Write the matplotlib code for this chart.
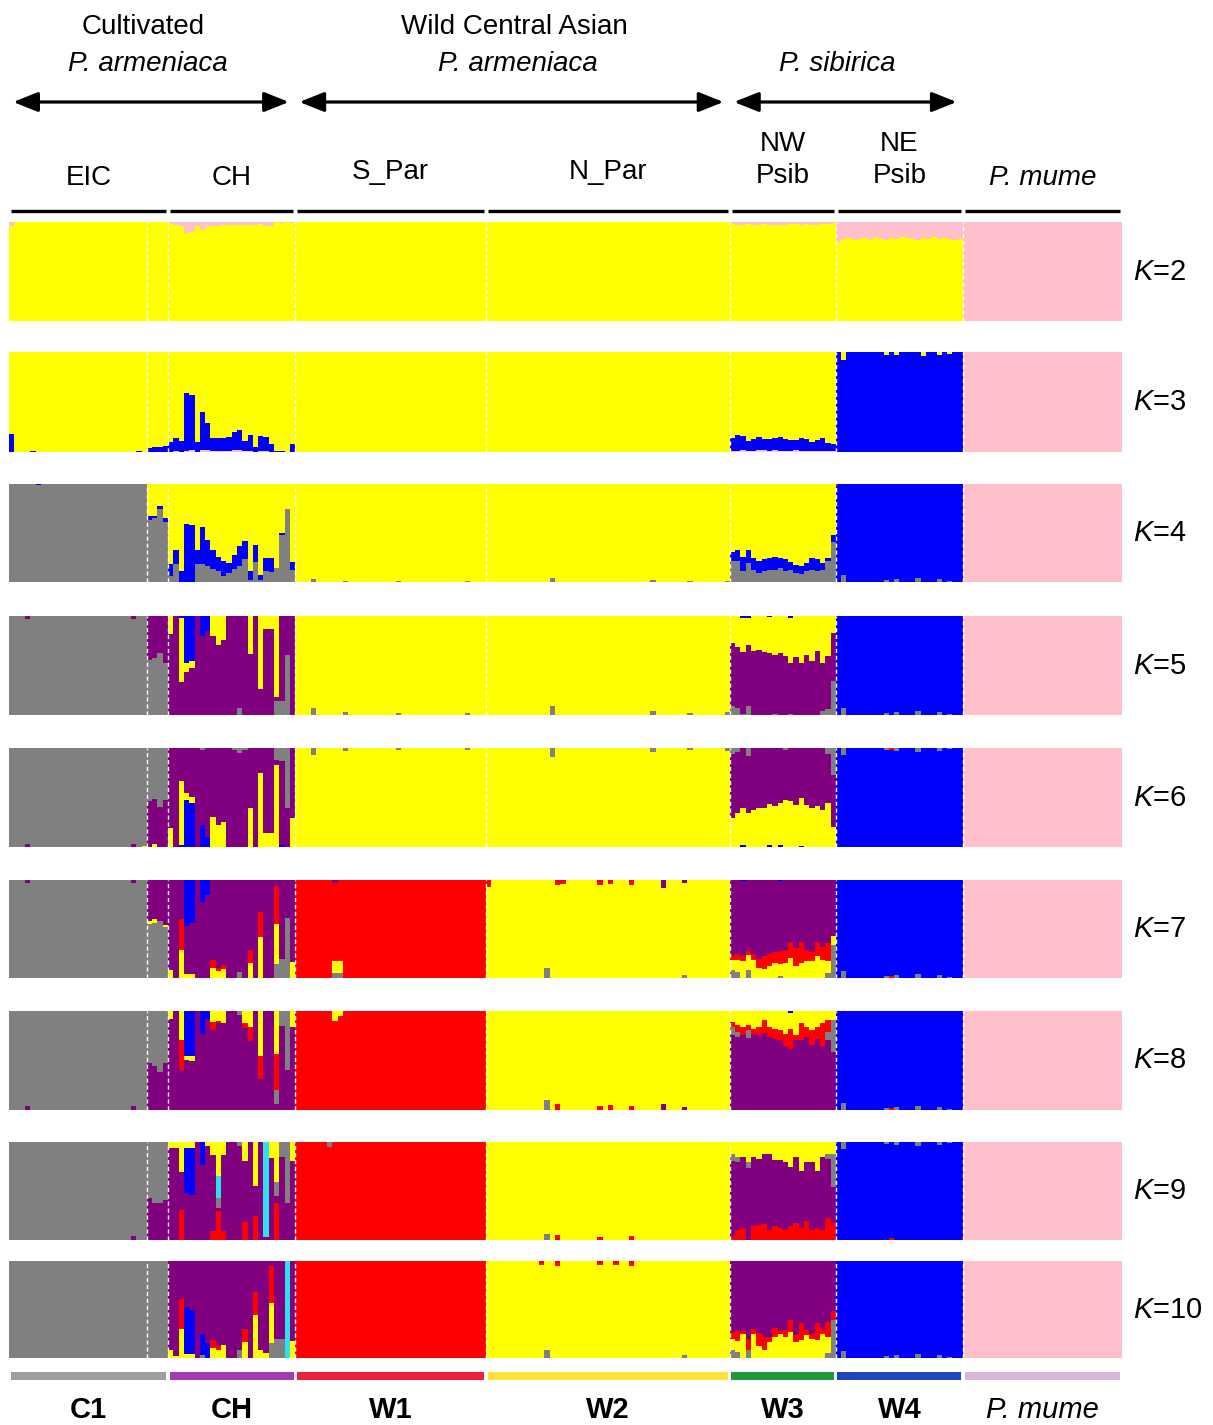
import numpy as np
import matplotlib.pyplot as plt
import matplotlib.transforms as mtransforms
from matplotlib.patches import FancyArrowPatch
from matplotlib.lines import Line2D

plt.rcParams['font.family'] = ['Liberation Sans', 'DejaVu Sans']
plt.rcParams['mathtext.fontset'] = 'custom'
plt.rcParams['mathtext.it'] = 'Liberation Sans:italic'
plt.rcParams['mathtext.rm'] = 'Liberation Sans'

W, H = 1213, 1425

# populations in plotting order and number of samples in each
groups = ["EIC", "EICb", "CH", "S_Par", "N_Par", "NW", "NE", "mume"]
sizes = [26, 4, 24, 36, 46, 20, 24, 30]
k_values = [2, 3, 4, 5, 6, 7, 8, 9, 10]

colors = {"yellow": "#ffff00", "pink": "#ffc0cb", "blue": "#0000ff", "gray": "#808080",
          "purple": "#800080", "red": "#ff0000", "cyan": "#30e0f0"}

# small admixture spots in otherwise uniform populations: (index, value)
ne_gray_spots = [(1, 0.07), (9, 0.02), (11, 0.03), (15, 0.04), (19, 0.03), (21, 0.01)]
spar_gray_spots = [(3, 0.07), (9, 0.03), (19, 0.02), (32, 0.02)]
npar_gray_spots = [(12, 0.09), (31, 0.04), (38, 0.02), (45, 0.03)]

# ---------------- K=2
order_k2 = ["yellow", "pink"]
fill_k2 = ["yellow", "yellow", "yellow", "yellow", "yellow", "yellow", "yellow", "pink"]
ch_k2_pink = [0.02, 0.03, 0.04, 0.11, 0.10, 0.04, 0.08, 0.05, 0.04, 0.04, 0.03, 0.03,
              0.03, 0.03, 0.03, 0.03, 0.03, 0.02, 0.04, 0.04, 0.00, 0.01, 0.00, 0.01]
nw_k2_pink = [0.02, 0.03, 0.03, 0.02, 0.03, 0.03, 0.02, 0.03, 0.03, 0.03,
              0.03, 0.02, 0.02, 0.03, 0.02, 0.03, 0.03, 0.02, 0.02, 0.01]
ne_k2_pink = [0.20, 0.17, 0.16, 0.18, 0.17, 0.16, 0.18, 0.15, 0.17, 0.18, 0.16, 0.17,
              0.15, 0.16, 0.17, 0.18, 0.16, 0.17, 0.15, 0.17, 0.16, 0.17, 0.18, 0.17]
specks_k2 = [("EIC", 0, "pink", 0.04)]

# ---------------- K=3
order_k3 = ["pink", "blue", "yellow"]
fill_k3 = ["yellow", "yellow", "yellow", "yellow", "yellow", "yellow", "blue", "pink"]
ch_k3_blue = [0.10, 0.13, 0.11, 0.58, 0.55, 0.10, 0.38, 0.27, 0.13, 0.13, 0.13, 0.14,
              0.18, 0.20, 0.10, 0.16, 0.05, 0.15, 0.14, 0.08, 0.01, 0.01, 0.00, 0.08]
ch_k3_pink = [0.00, 0.01, 0.00, 0.01, 0.02, 0.00, 0.02, 0.02, 0.01, 0.01, 0.01, 0.01,
              0.02, 0.02, 0.01, 0.01, 0.00, 0.01, 0.01, 0.00, 0.00, 0.00, 0.00, 0.00]
eicb_k3_blue = [0.04, 0.05, 0.05, 0.06]
nw_k3_blue = [0.13, 0.16, 0.14, 0.10, 0.12, 0.13, 0.11, 0.12, 0.12, 0.14,
              0.12, 0.11, 0.10, 0.13, 0.12, 0.09, 0.11, 0.13, 0.08, 0.07]
nw_k3_pink = [0.01, 0.01, 0.02, 0.01, 0.01, 0.02, 0.02, 0.01, 0.02, 0.01,
              0.01, 0.01, 0.02, 0.01, 0.01, 0.01, 0.01, 0.01, 0.01, 0.01]
specks_k3 = [("EIC", 0, "blue", 0.18), ("EIC", 4, "blue", 0.01), ("EIC", 24, "blue", 0.01),
             ("NE", 1, "yellow", 0.08), ("NE", 9, "yellow", 0.03), ("NE", 11, "yellow", 0.03),
             ("NE", 16, "yellow", 0.04), ("NE", 19, "yellow", 0.03), ("NE", 21, "yellow", 0.02)]

# ---------------- K=4
order_k4 = ["gray", "pink", "blue", "yellow"]
fill_k4 = ["gray", "yellow", "yellow", "yellow", "yellow", "yellow", "blue", "pink"]
ch_k4_gray = [0.06, 0.18, 0.00, 0.00, 0.00, 0.18, 0.18, 0.16, 0.13, 0.11, 0.06, 0.09,
              0.13, 0.16, 0.23, 0.02, 0.20, 0.02, 0.11, 0.10, 0.14, 0.48, 0.74, 0.12]
ch_k4_blue = [0.12, 0.15, 0.11, 0.59, 0.58, 0.15, 0.38, 0.27, 0.20, 0.15, 0.15, 0.10,
              0.15, 0.21, 0.19, 0.09, 0.18, 0.05, 0.13, 0.14, 0.00, 0.02, 0.00, 0.08]
eicb_k4_gray = [0.63, 0.65, 0.74, 0.61]
eicb_k4_blue = [0.04, 0.02, 0.04, 0.04]
nw_k4_gray = [0.21, 0.21, 0.11, 0.19, 0.12, 0.09, 0.11, 0.12, 0.12, 0.14,
              0.11, 0.12, 0.09, 0.08, 0.11, 0.12, 0.11, 0.12, 0.21, 0.41]
nw_k4_blue = [0.10, 0.12, 0.15, 0.14, 0.12, 0.12, 0.12, 0.12, 0.14, 0.10,
              0.12, 0.08, 0.08, 0.08, 0.08, 0.12, 0.12, 0.07, 0.03, 0.07]
specks_k4 = [("EIC", 5, "blue", 0.01)]
specks_k4 += [("S_Par", i, "gray", v * 0.5) for i, v in spar_gray_spots]
specks_k4 += [("N_Par", i, "gray", v * 0.5) for i, v in npar_gray_spots]
specks_k4 += [("NE", i, "gray", v) for i, v in ne_gray_spots]

# ---------------- K=5
order_k5 = ["gray", "purple", "yellow", "blue", "pink"]
fill_k5 = ["gray", "purple", "purple", "yellow", "yellow", "yellow", "blue", "pink"]
ch_k5_gray = [0.00, 0.00, 0.00, 0.00, 0.00, 0.00, 0.00, 0.00, 0.00, 0.00, 0.00, 0.00,
              0.00, 0.07, 0.00, 0.00, 0.00, 0.00, 0.00, 0.00, 0.14, 0.14, 0.61, 0.00]
ch_k5_yellow = [0.18, 0.00, 0.65, 0.10, 0.08, 0.00, 0.00, 0.00, 0.20, 0.29, 0.24, 0.00,
                0.00, 0.00, 0.00, 0.38, 0.00, 0.74, 0.13, 0.13, 0.82, 0.00, 0.00, 0.00]
ch_k5_blue = [0.00, 0.00, 0.02, 0.47, 0.45, 0.00, 0.20, 0.15, 0.00, 0.00, 0.00, 0.00,
              0.00, 0.00, 0.00, 0.00, 0.00, 0.00, 0.00, 0.00, 0.00, 0.00, 0.00, 0.00]
eicb_k5_gray = [0.56, 0.58, 0.63, 0.53]
nw_k5_gray = [0.09, 0.07, 0.01, 0.09, 0.00, 0.00, 0.00, 0.00, 0.01, 0.00,
              0.00, 0.01, 0.00, 0.00, 0.00, 0.00, 0.00, 0.04, 0.06, 0.34]
nw_k5_purple = [0.64, 0.62, 0.63, 0.62, 0.65, 0.66, 0.64, 0.63, 0.60, 0.63,
                0.60, 0.52, 0.59, 0.53, 0.61, 0.55, 0.65, 0.49, 0.54, 0.49]
specks_k5 = [("EIC", 3, "purple", 0.03), ("EIC", 23, "purple", 0.03),
             ("NW", 2, "blue", 0.02), ("NW", 3, "blue", 0.02), ("NW", 7, "blue", 0.01),
             ("NW", 11, "blue", 0.02)]
specks_k5 += [("S_Par", i, "gray", v) for i, v in spar_gray_spots]
specks_k5 += [("N_Par", i, "gray", v) for i, v in npar_gray_spots]
specks_k5 += [("NE", i, "gray", v) for i, v in ne_gray_spots]

# ---------------- K=6
order_k6 = ["blue", "yellow", "purple", "gray", "red", "pink"]
fill_k6 = ["gray", "gray", "purple", "yellow", "yellow", "purple", "blue", "pink"]
ch_k6_blue = [0.00, 0.00, 0.02, 0.47, 0.44, 0.00, 0.22, 0.10, 0.00, 0.00, 0.00, 0.00,
              0.00, 0.00, 0.00, 0.00, 0.00, 0.00, 0.00, 0.00, 0.00, 0.02, 0.00, 0.00]
ch_k6_yellow = [0.19, 0.00, 0.65, 0.08, 0.07, 0.00, 0.00, 0.00, 0.30, 0.22, 0.25, 0.00,
                0.00, 0.00, 0.00, 0.39, 0.00, 0.75, 0.14, 0.14, 0.83, 0.00, 0.00, 0.29]
ch_k6_gray = [0.00, 0.00, 0.00, 0.00, 0.00, 0.00, 0.02, 0.00, 0.00, 0.00, 0.00, 0.00,
              0.02, 0.05, 0.02, 0.00, 0.00, 0.00, 0.00, 0.00, 0.12, 0.13, 0.61, 0.00]
eicb_k6_purple = [0.46, 0.45, 0.40, 0.47]
eicb_k6_yellow = [0.00, 0.03, 0.00, 0.00]
nw_k6_yellow = [0.29, 0.34, 0.37, 0.34, 0.37, 0.39, 0.39, 0.41, 0.41, 0.42,
                0.47, 0.46, 0.42, 0.48, 0.42, 0.39, 0.41, 0.37, 0.44, 0.20]
nw_k6_gray = [0.06, 0.04, 0.00, 0.08, 0.00, 0.00, 0.00, 0.00, 0.00, 0.00,
              0.02, 0.00, 0.00, 0.00, 0.00, 0.00, 0.00, 0.00, 0.06, 0.27]
specks_k6 = [("EIC", 3, "purple", 0.03), ("EIC", 23, "purple", 0.03), ("EIC", 25, "yellow", 0.01),
             ("NW", 2, "blue", 0.02), ("NW", 7, "blue", 0.02), ("NW", 9, "blue", 0.02),
             ("NW", 13, "blue", 0.01), ("NE", 10, "red", 0.02)]
specks_k6 += [("S_Par", i, "gray", v) for i, v in spar_gray_spots]
specks_k6 += [("N_Par", i, "gray", v) for i, v in npar_gray_spots]
specks_k6 += [("NE", i, "gray", v) for i, v in ne_gray_spots]

# ---------------- K=7
order_k7 = ["gray", "yellow", "red", "purple", "blue", "pink"]
fill_k7 = ["gray", "purple", "purple", "red", "yellow", "purple", "blue", "pink"]
ch_k7_yellow = [0.08, 0.00, 0.29, 0.04, 0.04, 0.00, 0.00, 0.00, 0.10, 0.07, 0.09, 0.00,
                0.00, 0.00, 0.00, 0.15, 0.00, 0.42, 0.00, 0.00, 0.41, 0.00, 0.00, 0.16]
ch_k7_red = [0.00, 0.00, 0.31, 0.00, 0.00, 0.00, 0.00, 0.00, 0.08, 0.03, 0.04, 0.00,
             0.00, 0.00, 0.00, 0.14, 0.00, 0.25, 0.00, 0.00, 0.39, 0.00, 0.00, 0.00]
ch_k7_gray = [0.00, 0.00, 0.00, 0.00, 0.00, 0.00, 0.00, 0.00, 0.00, 0.00, 0.00, 0.00,
              0.00, 0.06, 0.00, 0.00, 0.00, 0.00, 0.00, 0.00, 0.14, 0.19, 0.61, 0.00]
ch_k7_blue = [0.00, 0.00, 0.00, 0.47, 0.44, 0.00, 0.22, 0.15, 0.00, 0.00, 0.00, 0.00,
              0.00, 0.00, 0.00, 0.00, 0.00, 0.00, 0.00, 0.00, 0.00, 0.00, 0.00, 0.00]
eicb_k7_gray = [0.55, 0.56, 0.58, 0.52]
eicb_k7_yellow = [0.03, 0.04, 0.00, 0.02]
nw_k7_gray = [0.08, 0.06, 0.00, 0.08, 0.00, 0.00, 0.00, 0.00, 0.00, 0.02,
              0.00, 0.00, 0.00, 0.00, 0.00, 0.00, 0.00, 0.00, 0.05, 0.34]
nw_k7_yellow = [0.10, 0.12, 0.17, 0.15, 0.18, 0.10, 0.09, 0.12, 0.15, 0.12,
                0.15, 0.20, 0.12, 0.15, 0.17, 0.17, 0.22, 0.18, 0.12, 0.09]
nw_k7_red = [0.05, 0.07, 0.05, 0.05, 0.07, 0.09, 0.13, 0.12, 0.12, 0.14,
             0.14, 0.17, 0.19, 0.22, 0.12, 0.10, 0.15, 0.14, 0.19, 0.00]
specks_k7 = [("EIC", 3, "purple", 0.03), ("EIC", 23, "purple", 0.03),
             ("NW", 2, "blue", 0.01), ("NW", 9, "blue", 0.01),
             ("S_Par", 7, "purple", 0.03), ("S_Par", 7, "yellow", 0.12), ("S_Par", 7, "gray", 0.05),
             ("S_Par", 8, "yellow", 0.12), ("S_Par", 8, "gray", 0.05),
             ("N_Par", 0, "red", 0.07), ("N_Par", 13, "red", 0.05), ("N_Par", 14, "red", 0.04),
             ("N_Par", 21, "red", 0.05), ("N_Par", 23, "red", 0.04), ("N_Par", 27, "red", 0.05),
             ("N_Par", 33, "purple", 0.08), ("N_Par", 37, "purple", 0.03),
             ("N_Par", 11, "gray", 0.10), ("N_Par", 37, "gray", 0.03), ("NE", 10, "red", 0.02)]
specks_k7 += [("NE", i, "gray", v) for i, v in ne_gray_spots]

# ---------------- K=8
order_k8 = ["purple", "gray", "red", "yellow", "blue", "pink"]
fill_k8 = ["gray", "gray", "purple", "red", "yellow", "purple", "blue", "pink"]
ch_k8_gray = [0.00, 0.00, 0.00, 0.00, 0.00, 0.00, 0.00, 0.00, 0.00, 0.00, 0.00, 0.00,
              0.00, 0.04, 0.00, 0.00, 0.00, 0.00, 0.00, 0.00, 0.14, 0.15, 0.60, 0.00]
ch_k8_red = [0.00, 0.00, 0.31, 0.00, 0.00, 0.00, 0.00, 0.00, 0.08, 0.02, 0.00, 0.00,
             0.00, 0.00, 0.05, 0.14, 0.00, 0.24, 0.00, 0.00, 0.37, 0.00, 0.00, 0.00]
ch_k8_yellow = [0.08, 0.00, 0.29, 0.04, 0.06, 0.00, 0.00, 0.00, 0.11, 0.10, 0.12, 0.00,
                0.00, 0.00, 0.12, 0.16, 0.00, 0.45, 0.00, 0.00, 0.43, 0.00, 0.00, 0.16]
ch_k8_blue = [0.00, 0.00, 0.00, 0.45, 0.45, 0.00, 0.23, 0.08, 0.00, 0.00, 0.00, 0.00,
              0.00, 0.00, 0.00, 0.00, 0.00, 0.00, 0.00, 0.00, 0.00, 0.00, 0.00, 0.00]
eicb_k8_purple = [0.47, 0.44, 0.38, 0.47]
nw_k8_yellow = [0.11, 0.14, 0.16, 0.14, 0.18, 0.16, 0.09, 0.16, 0.18, 0.19,
                0.23, 0.16, 0.24, 0.12, 0.16, 0.19, 0.16, 0.12, 0.09, 0.09]
nw_k8_red = [0.05, 0.07, 0.08, 0.05, 0.05, 0.08, 0.13, 0.10, 0.10, 0.10,
             0.12, 0.20, 0.05, 0.17, 0.10, 0.15, 0.12, 0.23, 0.12, 0.00]
nw_k8_gray = [0.08, 0.05, 0.00, 0.08, 0.00, 0.00, 0.00, 0.00, 0.00, 0.00,
              0.00, 0.00, 0.00, 0.00, 0.00, 0.00, 0.00, 0.00, 0.08, 0.32]
specks_k8 = [("EIC", 3, "purple", 0.04), ("EIC", 23, "purple", 0.04), ("NW", 11, "blue", 0.02),
             ("S_Par", 7, "yellow", 0.10), ("S_Par", 8, "yellow", 0.05),
             ("N_Par", 13, "red", 0.06), ("N_Par", 21, "red", 0.04), ("N_Par", 23, "red", 0.05),
             ("N_Par", 27, "red", 0.04), ("N_Par", 11, "gray", 0.10),
             ("N_Par", 33, "purple", 0.06), ("N_Par", 37, "purple", 0.03), ("NE", 10, "red", 0.02)]
specks_k8 += [("NE", i, "gray", v) for i, v in ne_gray_spots]

# ---------------- K=9
order_k9 = ["red", "purple", "blue", "gray", "cyan", "yellow", "pink"]
fill_k9 = ["gray", "gray", "purple", "red", "yellow", "purple", "blue", "pink"]
ch_k9_yellow = [0.06, 0.06, 0.31, 0.06, 0.06, 0.00, 0.00, 0.04, 0.13, 0.35, 0.13, 0.00,
                0.00, 0.00, 0.19, 0.00, 0.45, 0.00, 0.00, 0.16, 0.41, 0.00, 0.00, 0.19]
ch_k9_red = [0.00, 0.00, 0.31, 0.00, 0.00, 0.00, 0.00, 0.00, 0.09, 0.30, 0.09, 0.00,
             0.00, 0.00, 0.18, 0.00, 0.24, 0.00, 0.00, 0.00, 0.38, 0.00, 0.00, 0.00]
ch_k9_blue = [0.00, 0.00, 0.00, 0.46, 0.48, 0.00, 0.23, 0.00, 0.00, 0.00, 0.00, 0.00,
              0.00, 0.00, 0.00, 0.00, 0.00, 0.00, 0.00, 0.00, 0.00, 0.00, 0.00, 0.00]
ch_k9_gray = [0.00, 0.00, 0.00, 0.00, 0.00, 0.00, 0.00, 0.00, 0.00, 0.10, 0.00, 0.00,
              0.00, 0.04, 0.00, 0.00, 0.00, 0.00, 0.00, 0.00, 0.14, 0.15, 0.62, 0.00]
ch_k9_cyan = [0.00, 0.00, 0.00, 0.00, 0.00, 0.00, 0.00, 0.00, 0.00, 0.22, 0.00, 0.00,
              0.00, 0.00, 0.00, 0.00, 0.00, 0.00, 0.97, 0.00, 0.00, 0.00, 0.00, 0.00]
eicb_k9_purple = [0.43, 0.38, 0.38, 0.41]
nw_k9_yellow = [0.12, 0.15, 0.15, 0.20, 0.15, 0.17, 0.12, 0.12, 0.18, 0.18,
                0.20, 0.25, 0.15, 0.30, 0.20, 0.20, 0.30, 0.15, 0.12, 0.12]
nw_k9_gray = [0.07, 0.05, 0.00, 0.07, 0.00, 0.00, 0.00, 0.00, 0.00, 0.00,
              0.00, 0.00, 0.00, 0.00, 0.00, 0.00, 0.00, 0.00, 0.05, 0.34]
nw_k9_red = [0.03, 0.10, 0.12, 0.00, 0.14, 0.15, 0.16, 0.10, 0.14, 0.12,
             0.10, 0.14, 0.17, 0.12, 0.19, 0.10, 0.12, 0.10, 0.22, 0.17]
specks_k9 = [("EIC", 23, "purple", 0.04), ("S_Par", 6, "gray", 0.05),
             ("N_Par", 13, "red", 0.05), ("N_Par", 21, "red", 0.03), ("N_Par", 27, "red", 0.04),
             ("N_Par", 11, "gray", 0.06), ("NE", 10, "red", 0.02)]
specks_k9 += [("NE", i, "gray", v) for i, v in ne_gray_spots]

# ---------------- K=10
order_k10 = ["gray", "yellow", "red", "blue", "cyan", "purple", "pink"]
fill_k10 = ["gray", "gray", "purple", "red", "yellow", "purple", "blue", "pink"]
ch_k10_gray = [0.00, 0.00, 0.00, 0.00, 0.00, 0.00, 0.03, 0.00, 0.00, 0.00, 0.00, 0.00,
               0.00, 0.08, 0.00, 0.00, 0.00, 0.00, 0.00, 0.15, 0.20, 0.20, 0.00, 0.00]
ch_k10_yellow = [0.08, 0.02, 0.30, 0.04, 0.04, 0.00, 0.00, 0.00, 0.10, 0.08, 0.13, 0.00,
                 0.00, 0.00, 0.16, 0.00, 0.44, 0.08, 0.05, 0.42, 0.00, 0.00, 0.00, 0.18]
ch_k10_red = [0.00, 0.00, 0.31, 0.00, 0.00, 0.00, 0.00, 0.00, 0.09, 0.04, 0.00, 0.00,
              0.00, 0.00, 0.14, 0.00, 0.24, 0.00, 0.00, 0.38, 0.00, 0.00, 0.00, 0.00]
ch_k10_blue = [0.00, 0.00, 0.00, 0.49, 0.46, 0.00, 0.22, 0.15, 0.00, 0.00, 0.00, 0.00,
               0.00, 0.00, 0.00, 0.00, 0.00, 0.00, 0.00, 0.00, 0.00, 0.00, 0.00, 0.00]
ch_k10_cyan = [0.00, 0.00, 0.00, 0.00, 0.00, 0.00, 0.00, 0.00, 0.00, 0.00, 0.00, 0.00,
               0.00, 0.00, 0.00, 0.00, 0.00, 0.00, 0.00, 0.00, 0.00, 0.00, 1.00, 0.00]
nw_k10_gray = [0.08, 0.06, 0.00, 0.08, 0.00, 0.00, 0.00, 0.00, 0.00, 0.00,
               0.00, 0.00, 0.00, 0.00, 0.00, 0.00, 0.00, 0.00, 0.05, 0.39]
nw_k10_yellow = [0.12, 0.12, 0.25, 0.00, 0.25, 0.12, 0.08, 0.17, 0.22, 0.25,
                 0.22, 0.27, 0.17, 0.19, 0.24, 0.20, 0.19, 0.25, 0.17, 0.00]
nw_k10_red = [0.07, 0.10, 0.03, 0.12, 0.05, 0.14, 0.14, 0.05, 0.09, 0.03,
              0.07, 0.12, 0.07, 0.17, 0.05, 0.05, 0.17, 0.05, 0.15, 0.09]
specks_k10 = [("N_Par", 10, "red", 0.04), ("N_Par", 13, "red", 0.05), ("N_Par", 21, "red", 0.04),
              ("N_Par", 24, "red", 0.04), ("N_Par", 27, "red", 0.05),
              ("N_Par", 11, "gray", 0.08), ("N_Par", 37, "gray", 0.03)]
specks_k10 += [("NE", i, "gray", v) for i, v in ne_gray_spots]

rows = {
    2: (order_k2, fill_k2, [("CH", "pink", ch_k2_pink), ("NW", "pink", nw_k2_pink),
                            ("NE", "pink", ne_k2_pink)], specks_k2),
    3: (order_k3, fill_k3, [("CH", "blue", ch_k3_blue), ("CH", "pink", ch_k3_pink),
                            ("EICb", "blue", eicb_k3_blue), ("NW", "blue", nw_k3_blue),
                            ("NW", "pink", nw_k3_pink)], specks_k3),
    4: (order_k4, fill_k4, [("CH", "gray", ch_k4_gray), ("CH", "blue", ch_k4_blue),
                            ("EICb", "gray", eicb_k4_gray), ("EICb", "blue", eicb_k4_blue),
                            ("NW", "gray", nw_k4_gray), ("NW", "blue", nw_k4_blue)], specks_k4),
    5: (order_k5, fill_k5, [("CH", "gray", ch_k5_gray), ("CH", "yellow", ch_k5_yellow),
                            ("CH", "blue", ch_k5_blue), ("EICb", "gray", eicb_k5_gray),
                            ("NW", "gray", nw_k5_gray), ("NW", "purple", nw_k5_purple)], specks_k5),
    6: (order_k6, fill_k6, [("CH", "blue", ch_k6_blue), ("CH", "yellow", ch_k6_yellow),
                            ("CH", "gray", ch_k6_gray), ("EICb", "purple", eicb_k6_purple),
                            ("EICb", "yellow", eicb_k6_yellow), ("NW", "yellow", nw_k6_yellow),
                            ("NW", "gray", nw_k6_gray)], specks_k6),
    7: (order_k7, fill_k7, [("CH", "yellow", ch_k7_yellow), ("CH", "red", ch_k7_red),
                            ("CH", "gray", ch_k7_gray), ("CH", "blue", ch_k7_blue),
                            ("EICb", "gray", eicb_k7_gray), ("EICb", "yellow", eicb_k7_yellow),
                            ("NW", "gray", nw_k7_gray), ("NW", "yellow", nw_k7_yellow),
                            ("NW", "red", nw_k7_red)], specks_k7),
    8: (order_k8, fill_k8, [("CH", "gray", ch_k8_gray), ("CH", "red", ch_k8_red),
                            ("CH", "yellow", ch_k8_yellow), ("CH", "blue", ch_k8_blue),
                            ("EICb", "purple", eicb_k8_purple), ("NW", "yellow", nw_k8_yellow),
                            ("NW", "red", nw_k8_red), ("NW", "gray", nw_k8_gray)], specks_k8),
    9: (order_k9, fill_k9, [("CH", "yellow", ch_k9_yellow), ("CH", "red", ch_k9_red),
                            ("CH", "blue", ch_k9_blue), ("CH", "gray", ch_k9_gray),
                            ("CH", "cyan", ch_k9_cyan), ("EICb", "purple", eicb_k9_purple),
                            ("NW", "yellow", nw_k9_yellow), ("NW", "gray", nw_k9_gray),
                            ("NW", "red", nw_k9_red)], specks_k9),
    10: (order_k10, fill_k10, [("CH", "gray", ch_k10_gray), ("CH", "yellow", ch_k10_yellow),
                               ("CH", "red", ch_k10_red), ("CH", "blue", ch_k10_blue),
                               ("CH", "cyan", ch_k10_cyan), ("NW", "gray", nw_k10_gray),
                               ("NW", "yellow", nw_k10_yellow), ("NW", "red", nw_k10_red)], specks_k10),
}

# label groups for the header / footer
label_groups = [["EIC", "EICb"], ["CH"], ["S_Par"], ["N_Par"], ["NW"], ["NE"], ["mume"]]
top_labels = ["EIC", "CH", "S_Par", "N_Par", "NW\nPsib", "NE\nPsib", "P. mume"]
bottom_labels = ["C1", "CH", "W1", "W2", "W3", "W4", "P. mume"]
bar_colors = ["#9e9e9e", "#a23bb0", "#ea1f3c", "#ffe23a", "#20993a", "#1e46be", "#dcb6d9"]
arrow_groups = [["EIC", "EICb", "CH"], ["S_Par", "N_Par"], ["NW", "NE"]]

n = sum(sizes)
starts = np.cumsum([0] + sizes[:-1])
start = dict(zip(groups, starts))
size = dict(zip(groups, sizes))


def admixture(order, fill, comps, specks):
    q = {c: np.zeros(n) for c in order}
    for g, c, vals in comps:
        if len(vals) != size[g]:
            raise ValueError(f"{g} {c}: {len(vals)} values")
        q[c][start[g]:start[g] + size[g]] += np.asarray(vals)
    for g, i, c, v in specks:
        q[c][start[g] + i] += v
    for g, c in zip(groups, fill):
        s = slice(start[g], start[g] + size[g])
        others = sum(q[k][s] for k in order if k != c)
        q[c][s] = np.clip(1 - others, 0, 1)
    return q


def span(gs):
    return start[gs[0]], start[gs[-1]] + size[gs[-1]]


def fy(y):
    return 1 - y / H


fig = plt.figure(figsize=(W / 100, H / 100), dpi=100)

left, right = 9, 1122
row_px = [(222, 321), (352, 452), (484, 582), (616, 715), (748, 847),
          (880, 978), (1011, 1110), (1142, 1240), (1261, 1358)]
edges = np.arange(n + 1)
axes = []
for k, (top, bot) in zip(k_values, row_px):
    ax = fig.add_axes([left / W, fy(bot), (right - left) / W, (bot - top) / H])
    order = rows[k][0]
    q = admixture(*rows[k])
    cum = np.cumsum([q[c] for c in order], axis=0)
    # paint from the top layer down so stacked layers have no seams
    for c, top_line in reversed(list(zip(order, cum))):
        ax.stairs(top_line, edges, baseline=0, fill=True, color=colors[c], lw=0)
    for b in starts[1:]:
        ax.axvline(b, color="white", lw=1.0, ls=(0, (3, 2)))
    ax.set_xlim(0, n)
    ax.set_ylim(0, 1)
    ax.set_axis_off()
    ax.text(1.01, 0.5, f"$K$={k}", transform=ax.transAxes, ha="left", va="center", fontsize=21)
    axes.append(ax)

trans = mtransforms.blended_transform_factory(axes[0].transData, fig.transFigure)

# header: arrows
for gs in arrow_groups:
    a, b = span(gs)
    arr = FancyArrowPatch((a + 0.8, fy(102)), (b - 1.2, fy(102)), transform=trans,
                          arrowstyle="<|-|>,head_length=0.5,head_width=0.2",
                          mutation_scale=30, lw=2.3, color="black", shrinkA=0, shrinkB=0)
    fig.add_artist(arr)

# header: titles
fig.text(143 / W, fy(27), "Cultivated", ha="center", va="center", fontsize=20)
fig.text(148 / W, fy(64), "P. armeniaca", ha="center", va="center", fontsize=20, style="italic")
fig.text(514 / W, fy(27), "Wild Central Asian", ha="center", va="center", fontsize=20)
fig.text(518 / W, fy(64), "P. armeniaca", ha="center", va="center", fontsize=20, style="italic")
fig.text(837 / W, fy(64), "P. sibirica", ha="center", va="center", fontsize=20, style="italic")

# population labels and black rules
top_label_y = [178, 178, 172, 172, 160, 160, 178]
for gs, lab, y in zip(label_groups, top_labels, top_label_y):
    a, b = span(gs)
    fig.text((a + b) / 2, fy(y), lab, transform=trans, ha="center", va="center",
             fontsize=20, linespacing=1.3, style="italic" if lab.startswith("P.") else "normal")
    fig.add_artist(Line2D([a + 0.4, b - 0.4], [fy(211), fy(211)], transform=trans,
                          color="black", lw=2.4, solid_capstyle="butt"))

# footer: coloured group bars and group names
axb = fig.add_axes([left / W, fy(1380), (right - left) / W, 8 / H])
axb.set_xlim(0, n)
axb.set_ylim(0, 1)
axb.set_axis_off()
trans_b = mtransforms.blended_transform_factory(axb.transData, fig.transFigure)
for gs, lab, col in zip(label_groups, bottom_labels, bar_colors):
    a, b = span(gs)
    axb.axvspan(a + 0.3, b - 0.3, color=col, lw=0)
    italic = lab.startswith("P.")
    fig.text((a + b) / 2, fy(1410), lab, transform=trans_b, ha="center", va="center",
             fontsize=21, fontweight="normal" if italic else "bold",
             style="italic" if italic else "normal")

fig.savefig("out.png", dpi=100, facecolor="white")
